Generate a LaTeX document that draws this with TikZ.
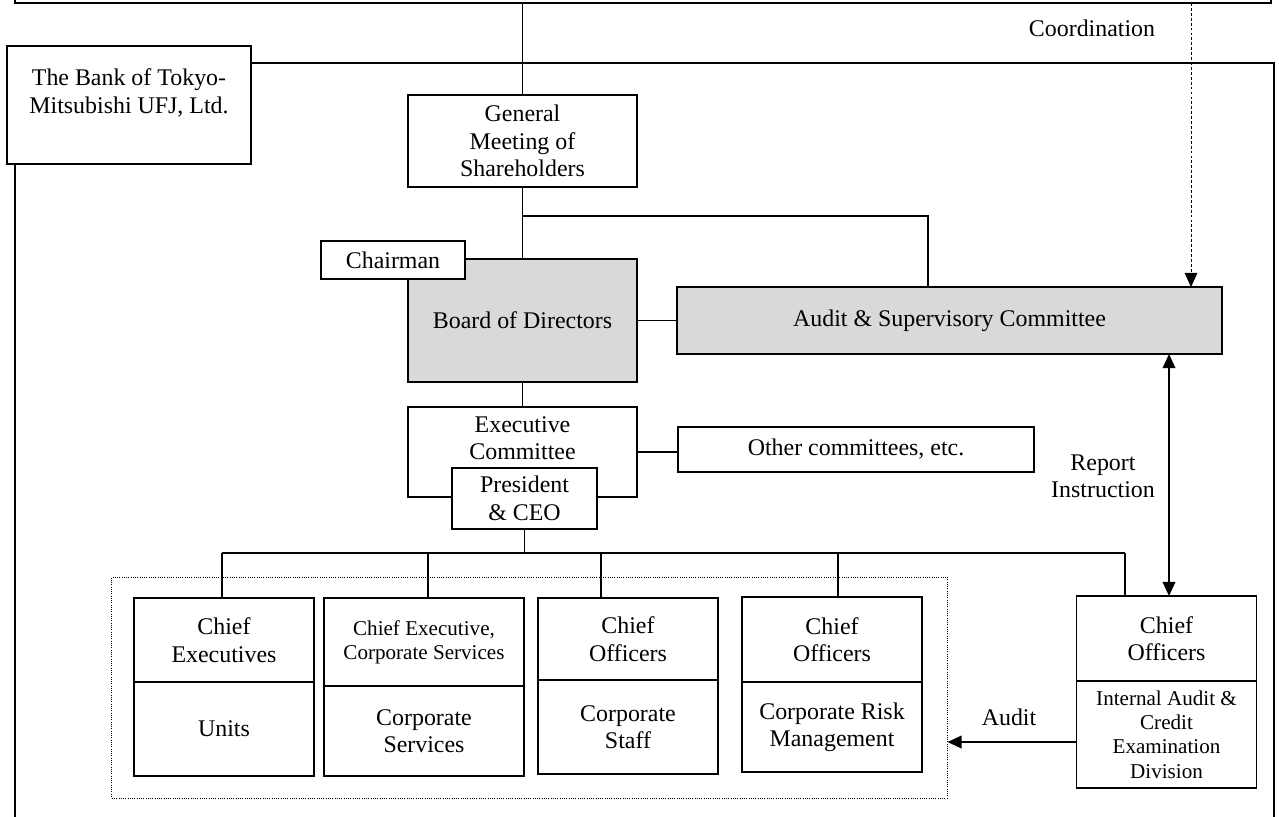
\documentclass[tikz,border=0pt]{standalone}
\usepackage{fontspec}
\setmainfont{Liberation Serif}
\usetikzlibrary{arrows.meta}
\usetikzlibrary{positioning}
\usetikzlibrary{calc}

\definecolor{boardgray}{RGB}{217,217,217}

\tikzset{
  box/.style={draw=black, fill=white, align=center, inner sep=0pt, outer sep=0pt, font=\fontsize{17}{19.5}\selectfont},
  graybox/.style={box, fill=boardgray},
  smalltext/.style={font=\fontsize{15}{17.2}\selectfont},
  lbl/.style={align=center, inner sep=0pt, font=\fontsize{17}{19.5}\selectfont},
  arr/.style={-{Triangle[width=9pt,length=10pt]}},
  darr/.style={{Triangle[width=9pt,length=10pt]}-{Triangle[width=9pt,length=10pt]}},
}

\begin{document}
\begin{tikzpicture}[x=0.025cm, y=-0.025cm, line width=1.1pt]
\useasboundingbox (0,0) rectangle (1279,816);

% Frames
\draw (15,-10) -- (15,3) -- (1271,3) -- (1271,-10);
\draw (250,63) -- (1274,63) -- (1274,830);
\draw (15,164) -- (15,830);
\node[lbl] (coordlbl) at (1092,28) {Coordination};

% Bank
\node[box, minimum width=6.1cm, minimum height=2.95cm] (bank) at (129,105) {The Bank of Tokyo-\\Mitsubishi UFJ, Ltd.\\\mbox{}};

% Top of the bank
\node[box, minimum width=5.725cm, minimum height=2.3cm] (gm) at (522.5,141) {General\\Meeting of\\Shareholders};
\node[graybox, minimum width=5.725cm, minimum height=3.075cm] (board) at (522.5,320.5) {Board of Directors};
\node[box, minimum width=3.6cm, minimum height=0.95cm] (chair) at (393,260) {Chairman};
\node[graybox, minimum width=13.625cm, minimum height=1.675cm] (asc) at (949.5,320.5) {Audit \& Supervisory Committee};
\node[box, minimum width=5.725cm, minimum height=2.25cm] (exec) at (522.5,452) {Executive\\Committee\\\mbox{}};
\node[box, minimum width=3.625cm, minimum height=1.525cm] (pres) at (524.5,498.5) {President\\\& CEO};
\node[box, minimum width=8.9cm, minimum height=1.125cm] (other) at (856,449.5) {Other committees, etc.};

\draw (gm.north |- 0,3) -- (gm.north);
\draw (gm.south) -- (board.north);
\draw ($(gm.south)!0.4!(board.north)$) -| ($(asc.north)+(-21.5,0)$);
\draw (board.east) -- (asc.west);
\draw (board.south) -- (exec.north);
\draw (exec.east) -- (exec.east -| other.west);

% Business lines
\node[draw, densely dotted, line width=0.6pt, minimum width=20.875cm, minimum height=5.525cm, inner sep=0pt] (grp) at (529.5,687.5) {};

\node[box, minimum width=4.5cm, minimum height=2.1cm] (u1t) at (224,640) {Chief\\Executives};
\node[box, minimum width=4.5cm, minimum height=2.35cm, below=0pt of u1t] (u1b) {Units};
\node[box, smalltext, minimum width=5cm, minimum height=2.2cm] (u2t) at (424,642) {Chief Executive,\\Corporate Services};
\node[box, minimum width=5cm, minimum height=2.25cm, below=0pt of u2t] (u2b) {Corporate\\Services};
\node[box, minimum width=4.5cm, minimum height=2.05cm] (u3t) at (628,639) {Chief\\Officers};
\node[box, minimum width=4.5cm, minimum height=2.35cm, below=0pt of u3t] (u3b) {Corporate\\Staff};
\node[box, minimum width=4.5cm, minimum height=2.125cm] (u4t) at (832,639.5) {Chief\\Officers};
\node[box, minimum width=4.5cm, minimum height=2.25cm, below=0pt of u4t] (u4b) {Corporate Risk\\Management};

% Internal audit
\node[box, minimum width=4.5cm, minimum height=2.125cm] (cot) at (1166.5,638.5) {Chief\\Officers};
\node[box, smalltext, minimum width=4.5cm, minimum height=2.675cm, below=0pt of cot] (cob) {Internal Audit \&\\Credit\\Examination\\Division};

\draw (pres.south) -- (pres.south |- 0,553) coordinate (bus);
\path ($(u1t.north)+(-2,0)$) coordinate (busl);
\path ($(cot.north)+(-41.5,0)$) coordinate (busr);
\draw (busl |- bus) -- (busr |- bus);
\foreach \n/\dx in {u1t/-2, u2t/4, u3t/-27, u4t/6, cot/-41.5} {
  \path ($(\n.north)+(\dx,0)$) coordinate (drop);
  \draw (drop) -- (drop |- bus);
}

\draw[darr] (cot.north -| 1169,0) -- (asc.south -| 1169,0);
\draw[arr, line width=0.6pt, dash pattern=on 2pt off 1.5pt] (1191,3) -- (asc.north -| 1191,0);
\node[lbl] (replbl) at (1103,476.5) {Report\\Instruction};

\draw[arr] (cob.west |- 0,742) -- (grp.east |- 0,742);
\node[lbl] (auditlbl) at (1009,717) {Audit};

\end{tikzpicture}
\end{document}
